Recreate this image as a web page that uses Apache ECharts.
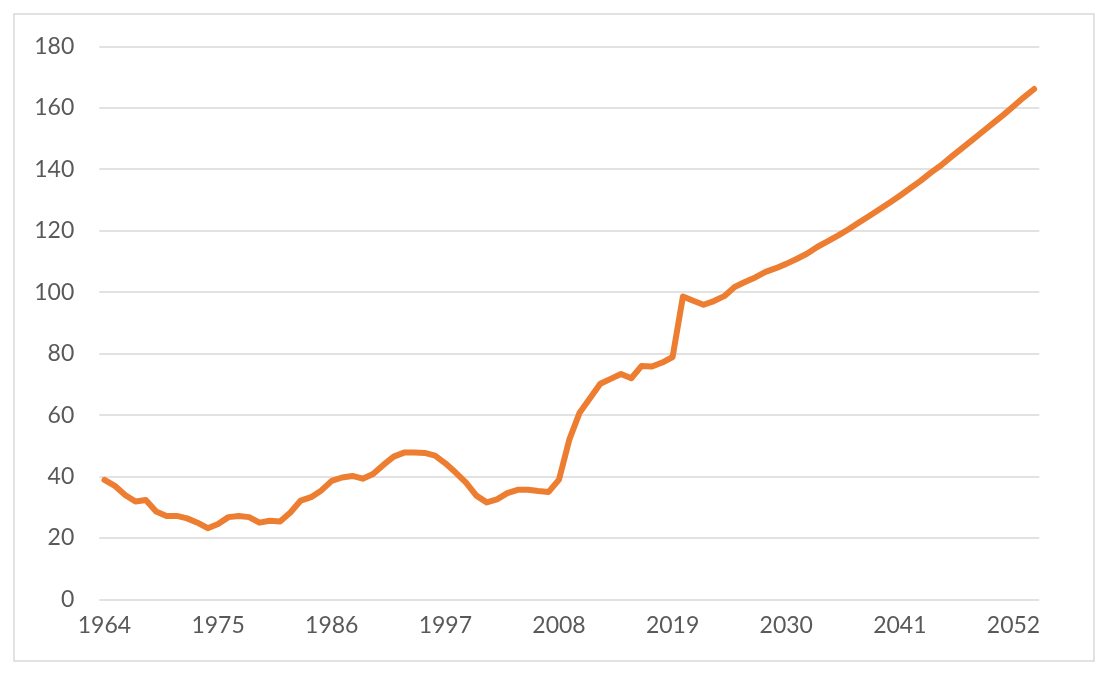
<!DOCTYPE html>
<html>
<head>
<meta charset="utf-8">
<script src="https://cdn.jsdelivr.net/npm/echarts@6/dist/echarts.min.js"></script>
<style>
html,body{margin:0;padding:0;background:#fff;}
#chart{width:1108px;height:675px;}
</style>
</head>
<body>
<div id="chart"></div>
<script>
const years = [];
for (let y = 1964; y <= 2054; y++) years.push(String(y));

const values = [
  38.9, 37.0, 34.0, 31.9, 32.4, 28.6, 27.2, 27.2, 26.4, 25.0,
  23.2, 24.6, 26.8, 27.2, 26.8, 25.0, 25.6, 25.4, 28.3, 32.2,
  33.3, 35.5, 38.6, 39.7, 40.2, 39.3, 40.8, 43.8, 46.5, 47.8,
  47.8, 47.7, 46.8, 44.3, 41.3, 38.0, 33.8, 31.6, 32.6, 34.6,
  35.7, 35.7, 35.3, 35.0, 39.0, 52.0, 60.8, 65.5, 70.2, 71.8,
  73.4, 72.0, 76.0, 75.8, 77.1, 78.9, 98.6, 97.2, 95.9, 97.1,
  98.7, 101.7, 103.3, 104.8, 106.6, 107.8, 109.2, 110.8, 112.5, 114.7,
  116.5, 118.4, 120.4, 122.6, 124.7, 126.9, 129.1, 131.4, 133.8, 136.2,
  138.9, 141.3, 144.1, 146.8, 149.5, 152.2, 154.9, 157.6, 160.5, 163.4,
  166.1
];

const yTicks = { min: 0, max: 180, interval: 20 };

const chart = echarts.init(document.getElementById('chart'), null, { renderer: 'canvas' });
chart.setOption({
  backgroundColor: '#ffffff',
  animation: false,
  graphic: [{
    type: 'rect',
    shape: { x: 14, y: 14, width: 1080, height: 647 },
    style: { fill: 'none', stroke: '#d9d9d9', lineWidth: 1.5 },
    silent: true
  }],
  grid: { left: 99.3, right: 68.7, top: 46.3, bottom: 75.5, containLabel: false },
  xAxis: {
    type: 'category',
    data: years,
    boundaryGap: true,
    axisLine: { show: false },
    axisTick: { show: false },
    splitLine: { show: false },
    axisLabel: {
      interval: 10,
      color: '#595959',
      fontFamily: 'Lato',
      fontSize: 23,
      margin: 15
    }
  },
  yAxis: {
    type: 'value',
    min: yTicks.min,
    max: yTicks.max,
    interval: yTicks.interval,
    axisLine: { show: false },
    axisTick: { show: false },
    splitLine: { lineStyle: { color: '#d9d9d9', width: 1.5 } },
    axisLabel: {
      color: '#595959',
      fontFamily: 'Lato',
      fontSize: 23,
      margin: 25
    }
  },
  series: [{
    type: 'line',
    data: values,
    symbol: 'none',
    smooth: false,
    lineStyle: { color: '#ED7D31', width: 6, cap: 'round', join: 'round' },
    itemStyle: { color: '#ED7D31' }
  }]
});
</script>
</body>
</html>
